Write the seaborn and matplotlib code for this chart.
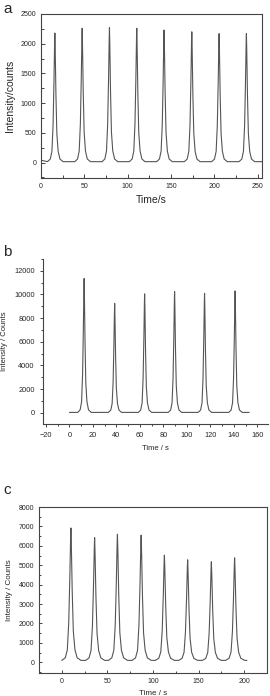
import numpy as np
import pandas as pd
import matplotlib
matplotlib.use('Agg')
import matplotlib.pyplot as plt
import seaborn as sns
from matplotlib.ticker import MultipleLocator

# peak times (s) and peak heights (counts)
times_a = [16, 47.5, 79, 110.5, 142, 174, 205.5, 237]
heights_a = [2180, 2260, 2270, 2260, 2230, 2200, 2170, 2170]
base_a = 15
start_a, end_a = 0, 255
lead_a = 40  # baseline before the first peak is a bit higher
width_a = 1.9

times_b = [12.5, 38.5, 64, 89.5, 115, 141]
heights_b = [11350, 9250, 10050, 10250, 10100, 10300]
base_b = 30
start_b, end_b = 0, 153
width_b = 1.2

times_c = [10, 36, 61, 87, 112.5, 138, 164, 189.5]
heights_c = [6920, 6420, 6600, 6550, 5520, 5280, 5180, 5380]
base_c = 100
start_c, end_c = 0, 203
width_c = 2.2

# one peak outline, offsets (s) and fraction of peak height, as seen in the picture
peak_dt = [-4.5, -2.8, -1.8, -1.1, -0.55, -0.15, 0.0, 0.2, 0.65, 1.2, 2.0, 3.1, 5.0]
peak_frac = [0.0, 0.02, 0.08, 0.28, 0.62, 0.93, 1.0, 0.88, 0.52, 0.22, 0.08, 0.02, 0.0]


def build_trace(times, heights, base, start, end, width, lead=None):
    t = [start]
    y = [lead if lead is not None else base]
    for tp, hp in zip(times, heights):
        for dt, fr in zip(peak_dt, peak_frac):
            t.append(tp + dt * width)
            y.append(base + fr * (hp - base))
    t.append(end)
    y.append(base)
    return pd.DataFrame({'time': t, 'intensity': y})


df_a = build_trace(times_a, heights_a, base_a, start_a, end_a, width_a, lead_a)
df_b = build_trace(times_b, heights_b, base_b, start_b, end_b, width_b)
df_c = build_trace(times_c, heights_c, base_c, start_c, end_c, width_c)

sns.set_style('ticks')
plt.rcParams['font.family'] = ['Liberation Sans', 'DejaVu Sans']

fig = plt.figure(figsize=(2.7, 6.96), dpi=100)
W, H = 270, 696


def add_ax(l, t, r, b):
    return fig.add_axes([l / W, 1 - b / H, (r - l) / W, (b - t) / H])


line_kw = dict(color='#555555', linewidth=0.8, sort=False)

# panel a
ax = add_ax(41, 14, 262, 178)
sns.lineplot(data=df_a, x='time', y='intensity', ax=ax, **line_kw)
ax.set_xlim(0, 255)
ax.set_ylim(-260, 2500)
ax.xaxis.set_major_locator(MultipleLocator(50))
ax.xaxis.set_minor_locator(MultipleLocator(25))
ax.yaxis.set_major_locator(MultipleLocator(500))
ax.yaxis.set_minor_locator(MultipleLocator(250))
ax.tick_params(which='both', direction='in', labelsize=5, length=3, width=0.6)
ax.tick_params(which='minor', length=2)
ax.set_xlabel('Time/s', fontsize=7.5, labelpad=4)
ax.set_ylabel('Intensity/counts', fontsize=7.5, labelpad=4)
for s in ax.spines.values():
    s.set_linewidth(0.8)
    s.set_color('#444444')

# panel b
ax = add_ax(43, 259, 268, 424)
sns.lineplot(data=df_b, x='time', y='intensity', ax=ax, **line_kw)
ax.set_xlim(-22.5, 169)
ax.set_ylim(-950, 13000)
ax.xaxis.set_major_locator(MultipleLocator(20))
ax.xaxis.set_minor_locator(MultipleLocator(10))
ax.yaxis.set_major_locator(MultipleLocator(2000))
ax.yaxis.set_minor_locator(MultipleLocator(1000))
ax.tick_params(which='both', direction='out', labelsize=5.3, length=2.5, width=0.6)
ax.tick_params(which='minor', length=1.5)
ax.set_xlabel('Time / s', fontsize=5.5, labelpad=4)
ax.set_ylabel('Intensity / Counts', fontsize=5.5, labelpad=4)
sns.despine(ax=ax)
for s in ax.spines.values():
    s.set_linewidth(0.8)
    s.set_color('#444444')

# panel c
ax = add_ax(39, 507, 267, 673)
sns.lineplot(data=df_c, x='time', y='intensity', ax=ax, **line_kw)
ax.set_xlim(-25, 225)
ax.set_ylim(-550, 8000)
ax.xaxis.set_major_locator(MultipleLocator(50))
ax.xaxis.set_minor_locator(MultipleLocator(25))
ax.yaxis.set_major_locator(MultipleLocator(1000))
ax.yaxis.set_minor_locator(MultipleLocator(500))
ax.tick_params(which='both', direction='in', labelsize=5, length=2.5, width=0.6)
ax.tick_params(which='minor', length=1.5)
ax.set_xlabel('Time / s', fontsize=5.8, labelpad=4)
ax.set_ylabel('Intensity / Counts', fontsize=5.8, labelpad=4)
for s in ax.spines.values():
    s.set_linewidth(0.8)
    s.set_color('#444444')

# panel letters
fig.text(3 / W, 1 - 9 / H, 'a', fontsize=11, va='center', ha='left')
fig.text(3 / W, 1 - 252 / H, 'b', fontsize=11, va='center', ha='left')
fig.text(3 / W, 1 - 490 / H, 'c', fontsize=11, va='center', ha='left')

fig.savefig('out.png', dpi=100)
